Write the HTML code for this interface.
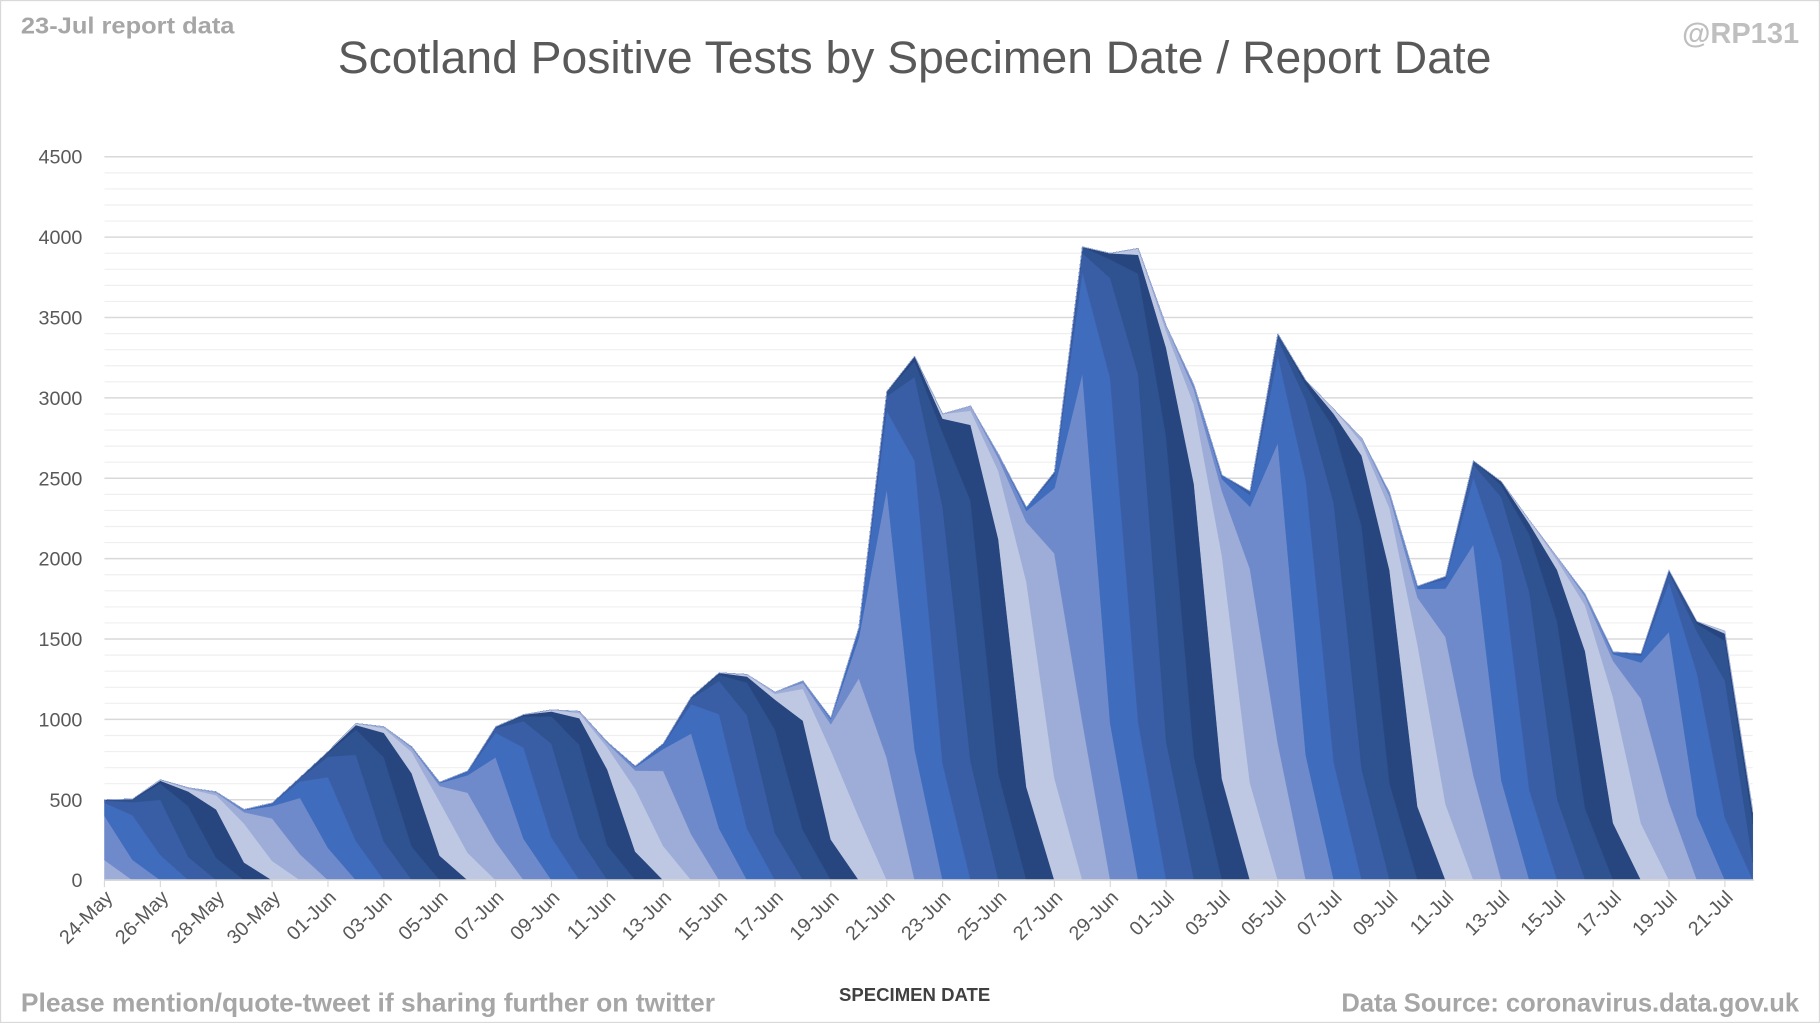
<!DOCTYPE html>
<html><head><meta charset="utf-8"><style>
html,body{margin:0;padding:0;background:#fff;}
svg{display:block;}
text{font-family:"Liberation Sans",sans-serif;}
</style></head><body>
<svg id="s" width="1820" height="1023" viewBox="0 0 1568 881" preserveAspectRatio="none" xmlns="http://www.w3.org/2000/svg">
<rect x="0.5" y="0.5" width="1567" height="880" fill="#fff" stroke="#d9d9d9"/>
<g id="grid"></g>
<g id="areas"></g>
<g id="axis"></g>
<text x="18" y="29" font-size="20" font-weight="bold" fill="#a6a6a6" textLength="184" lengthAdjust="spacingAndGlyphs">23-Jul report data</text>
<text x="1550" y="37" font-size="25" font-weight="bold" fill="#bfbfbf" text-anchor="end">@RP131</text>
<text x="788" y="63" font-size="39" fill="#595959" text-anchor="middle" textLength="994" lengthAdjust="spacingAndGlyphs">Scotland Positive Tests by Specimen Date / Report Date</text>
<text x="18" y="871" font-size="22" font-weight="bold" fill="#a6a6a6" textLength="598" lengthAdjust="spacingAndGlyphs">Please mention/quote-tweet if sharing further on twitter</text>
<text x="788" y="862" font-size="16" font-weight="bold" fill="#404040" text-anchor="middle">SPECIMEN DATE</text>
<text x="1550" y="871" font-size="22" font-weight="bold" fill="#a6a6a6" text-anchor="end">Data Source: coronavirus.data.gov.uk</text>
</svg>
<script>
(function(){
var NS="http://www.w3.org/2000/svg";
function el(p,t,a,txt){var e=document.createElementNS(NS,t);for(var k in a)e.setAttribute(k,a[k]);if(txt!=null)e.textContent=txt;p.appendChild(e);return e;}
var X0=90,DX=24.07,Y0=758,SC=69.22/500;
function X(i){return X0+DX*i;}function Y(v){return Y0-v*SC;}
var g=document.getElementById('grid');
for(var v=100;v<=4500;v+=100){var maj=v%500==0;el(g,'line',{x1:90,x2:1510,y1:Y(v),y2:Y(v),stroke:maj?'#d9d9d9':'#efefef','stroke-width':maj?1.3:1});}
var ax=document.getElementById('axis');
for(var v=0;v<=4500;v+=500)el(ax,'text',{x:71,y:Y(v)+6,'font-size':17,fill:'#595959','text-anchor':'end'},String(v));
var vals=[500,505,625,575,550,440,480,640,800,975,955,830,610,680,955,1030,1060,1050,860,710,850,1140,1290,1280,1170,1240,1010,1570,3040,3260,2900,2950,2650,2320,2540,3940,3900,3930,3450,3080,2520,2420,3400,3110,2930,2750,2410,1830,1890,2610,2480,2240,2010,1780,1420,1410,1930,1610,1550,440];
var N=vals.length;
var c=[0,0.25,0.8,0.96,0.99,1];
function cum(d){if(d<=0)return 0;if(d>=c.length)return 1;return c[d];}
var cols=['#bfc8e3','#9eadd8','#6f8acb','#3f6cbd','#3a5ea6','#2f5290','#27467f'];
var A=document.getElementById('areas');
for(var R=0;R<N+6;R++){
 var tp=[],bt=[],any=false;
 for(var i=0;i<N;i++){var t=vals[i]*cum(R-i),b=vals[i]*cum(R-1-i);if(t-b>0)any=true;tp.push([X(i),Y(t)]);bt.push([X(i),Y(b)]);}
 if(!any)continue;
 var d='M'+tp.map(function(p){return p[0].toFixed(1)+','+p[1].toFixed(1)}).join('L');
 d+='L'+bt.reverse().map(function(p){return p[0].toFixed(1)+','+p[1].toFixed(1)}).join('L')+'Z';
 var col=cols[R%cols.length];
 el(A,'path',{d:d,fill:col,stroke:col,'stroke-width':0.4});
}
el(ax,'line',{x1:90,x2:1511,y1:Y0,y2:Y0,stroke:'#d9d9d9','stroke-width':1.5});
var names=[];var mo=[['May',24,31],['Jun',1,30],['Jul',1,22]];
mo.forEach(function(m){for(var d=m[1];d<=m[2];d++)names.push((d<10?'0':'')+d+'-'+m[0]);});
for(var i=0;i<N;i+=2){
 el(ax,'line',{x1:X(i),x2:X(i),y1:Y0,y2:Y0+6,stroke:'#d9d9d9'});
 var tx=X(i)+8,ty=Y0+16;
 el(ax,'text',{x:tx,y:ty,'font-size':17,fill:'#595959','text-anchor':'end',transform:'rotate(-45 '+tx+' '+ty+')'},names[i]);
}
})();
</script>
</body></html>
